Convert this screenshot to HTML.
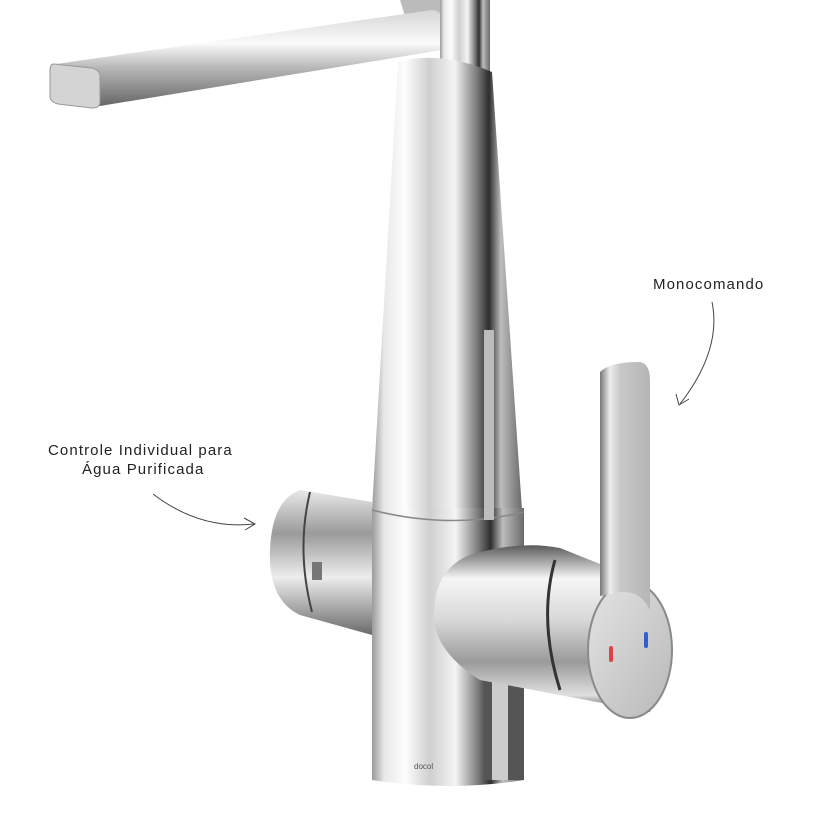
<!DOCTYPE html>
<html><head><meta charset="utf-8"><style>
html,body{margin:0;padding:0;background:#fff;width:820px;height:820px;overflow:hidden}
svg{display:block}
</style></head><body>
<svg width="820" height="820" viewBox="0 0 820 820" xmlns="http://www.w3.org/2000/svg">
<defs>
<linearGradient id="col" x1="0" x2="1" y1="0" y2="0">
<stop offset="0" stop-color="#9a9a9a"/><stop offset="0.08" stop-color="#e8e8e8"/>
<stop offset="0.22" stop-color="#fdfdfd"/><stop offset="0.38" stop-color="#cfcfcf"/>
<stop offset="0.55" stop-color="#f4f4f4"/><stop offset="0.7" stop-color="#7a7a7a"/>
<stop offset="0.78" stop-color="#2e2e2e"/><stop offset="0.86" stop-color="#bdbdbd"/>
<stop offset="1" stop-color="#6a6a6a"/></linearGradient>
<linearGradient id="arm" x1="0" x2="0" y1="0" y2="1">
<stop offset="0" stop-color="#d6d6d6"/><stop offset="0.35" stop-color="#fafafa"/>
<stop offset="0.6" stop-color="#b8b8b8"/><stop offset="1" stop-color="#666"/></linearGradient>
<linearGradient id="hb" x1="0" x2="0" y1="0" y2="1">
<stop offset="0" stop-color="#5a5a5a"/><stop offset="0.2" stop-color="#f6f6f6"/>
<stop offset="0.45" stop-color="#d8d8d8"/><stop offset="0.7" stop-color="#9a9a9a"/>
<stop offset="0.9" stop-color="#e0e0e0"/><stop offset="1" stop-color="#4a4a4a"/></linearGradient>
<linearGradient id="face" x1="0" x2="1" y1="0" y2="1">
<stop offset="0" stop-color="#e4e4e4"/><stop offset="1" stop-color="#b8b8b8"/></linearGradient>
<linearGradient id="lev" x1="0" x2="1">
<stop offset="0" stop-color="#777"/><stop offset="0.2" stop-color="#eee"/><stop offset="0.4" stop-color="#c8c8c8"/><stop offset="1" stop-color="#b5b5b5"/></linearGradient>
<linearGradient id="kn" x1="0" x2="0" y1="0" y2="1">
<stop offset="0" stop-color="#e8e8e8"/><stop offset="0.3" stop-color="#9a9a9a"/><stop offset="0.6" stop-color="#ededed"/><stop offset="1" stop-color="#6a6a6a"/></linearGradient>
</defs>

<!-- top pieces -->
<path d="M400 0 L440 0 L440 14 L405 16 Z" fill="#bbb"/>
<!-- spout arm -->
<path d="M56 64 L432 10 Q442 10 442 22 L442 50 L100 106 L90 100 Z" fill="url(#arm)"/>
<path d="M54 64 Q50 64 50 70 L50 96 Q50 102 58 104 L92 108 Q100 108 100 102 L100 76 Q100 70 92 68 Z" fill="#d4d4d4" stroke="#999" stroke-width="1"/>
<!-- upper pullout tube -->
<rect x="440" y="0" width="50" height="72" fill="url(#col)"/>
<!-- tapered body -->
<path d="M398 62 Q440 50 492 72 L522 510 L372 510 Z" fill="url(#col)"/>
<!-- lower column -->
<path d="M372 508 L524 508 L524 780 Q450 792 372 780 Z" fill="url(#col)"/>
<path d="M372 510 Q450 530 524 512" fill="none" stroke="#888" stroke-width="1.5"/>
<rect x="484" y="330" width="10" height="190" fill="#bdbdbd"/>
<text x="414" y="769" font-family="Liberation Sans, sans-serif" font-size="8" fill="#555">docol</text>

<!-- left knob -->
<path d="M300 490 L372 502 L372 635 L300 615 Q268 600 270 550 Q272 500 300 490 Z" fill="url(#kn)"/>
<path d="M310 492 Q296 550 312 612" fill="none" stroke="#444" stroke-width="2"/>
<rect x="312" y="562" width="10" height="18" fill="#777"/>

<!-- lower pipe under right body -->
<rect x="484" y="680" width="40" height="100" fill="#555"/>
<rect x="492" y="680" width="16" height="100" fill="#ccc"/>

<!-- right body -->
<path d="M470 555 Q520 540 560 548 L640 580 L650 712 L480 680 Q432 650 434 612 Q436 568 470 555 Z" fill="url(#hb)"/>
<path d="M555 560 Q538 620 560 690" fill="none" stroke="#333" stroke-width="3"/>
<!-- end face -->
<ellipse cx="630" cy="650" rx="42" ry="68" fill="url(#face)" stroke="#8a8a8a" stroke-width="2"/>
<!-- lever -->
<path d="M600 372 Q610 362 640 362 Q650 364 650 380 L650 610 Q640 590 620 592 L600 596 Z" fill="url(#lev)"/>
<rect x="609" y="646" width="4" height="16" rx="2" fill="#e0424a"/>
<rect x="644" y="632" width="4" height="16" rx="2" fill="#2f5fd0"/>

<!-- labels -->
<g font-family="Liberation Sans, sans-serif" font-size="15" fill="#222" letter-spacing="1.1">
<text x="653" y="289">Monocomando</text>
<text x="48" y="455">Controle Individual para</text>
<text x="82" y="474">Água Purificada</text>
</g>
<g fill="none" stroke="#444" stroke-width="1">
<path d="M712 302 Q722 350 680 404"/>
<path d="M676 394 L679 405 L689 399"/>
<path d="M153 494 Q200 530 254 524"/>
<path d="M244 518 L255 524 L245 530"/>
</g>
</svg>
</body></html>
